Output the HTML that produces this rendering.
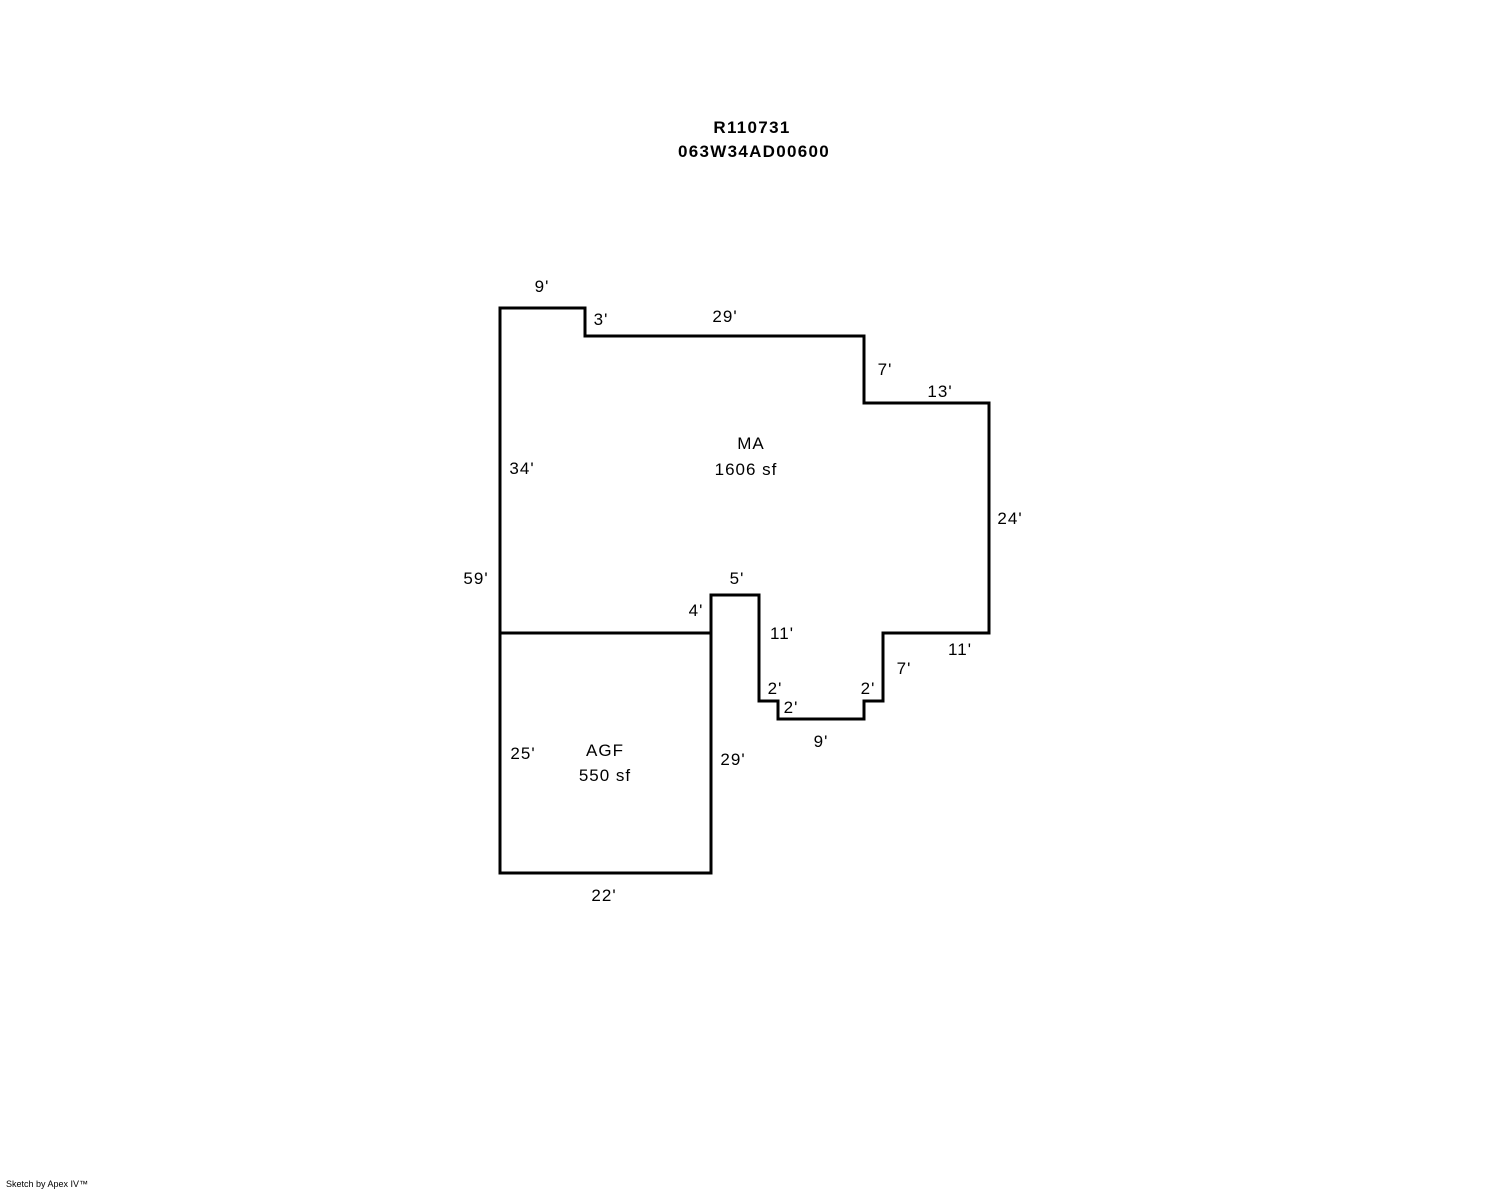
<!DOCTYPE html>
<html><head><meta charset="utf-8"><style>
html,body{margin:0;padding:0;background:#fff;}
svg text{font-family:"Liberation Sans",Arial,sans-serif;font-size:17px;letter-spacing:1px;fill:#000;}
</style></head><body>
<svg width="1488" height="1190" viewBox="0 0 1488 1190" xmlns="http://www.w3.org/2000/svg">
<text x="752" y="133" text-anchor="middle" font-weight="bold" style="letter-spacing:1.3px">R110731</text>
<text x="754" y="157" text-anchor="middle" font-weight="bold" style="letter-spacing:1.3px">063W34AD00600</text>
<g fill="none" stroke="#000" stroke-width="3" stroke-linejoin="miter" stroke-linecap="square">
<polyline points="500,873 500,308 585,308 585,336 864,336 864,403 989,403 989,633 883,633 883,701 864,701 864,719 778,719 778,701 759,701 759,595 711,595 711,873 500,873"/>
<line x1="500" y1="633" x2="711" y2="633"/>
</g>
<text x="542" y="292" text-anchor="middle">9'</text>
<text x="601" y="325" text-anchor="middle">3'</text>
<text x="725" y="322" text-anchor="middle">29'</text>
<text x="885" y="375" text-anchor="middle">7'</text>
<text x="940" y="397" text-anchor="middle">13'</text>
<text x="751" y="449" text-anchor="middle">MA</text>
<text x="746" y="475" text-anchor="middle">1606 sf</text>
<text x="522" y="474" text-anchor="middle">34'</text>
<text x="1010" y="524" text-anchor="middle">24'</text>
<text x="476" y="584" text-anchor="middle">59'</text>
<text x="737" y="584" text-anchor="middle">5'</text>
<text x="696" y="616" text-anchor="middle">4'</text>
<text x="782" y="639" text-anchor="middle">11'</text>
<text x="960" y="655" text-anchor="middle">11'</text>
<text x="904" y="674" text-anchor="middle">7'</text>
<text x="775" y="694" text-anchor="middle">2'</text>
<text x="868" y="694" text-anchor="middle">2'</text>
<text x="791" y="713" text-anchor="middle">2'</text>
<text x="821" y="747" text-anchor="middle">9'</text>
<text x="605" y="756" text-anchor="middle">AGF</text>
<text x="605" y="781" text-anchor="middle">550 sf</text>
<text x="523" y="759" text-anchor="middle">25'</text>
<text x="733" y="765" text-anchor="middle">29'</text>
<text x="604" y="901" text-anchor="middle">22'</text>
<text x="6" y="1187" style="font-size:9px;letter-spacing:0">Sketch by Apex IV™</text>
</svg>
</body></html>
